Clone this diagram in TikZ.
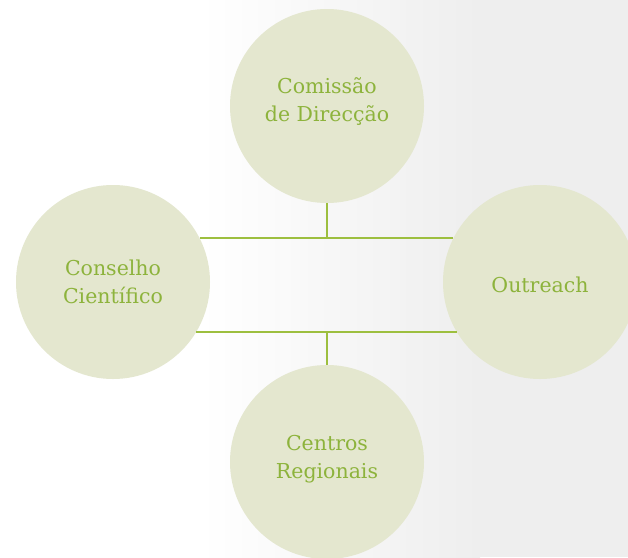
\documentclass[tikz,border=0pt]{standalone}
\usepackage{fontspec}
\setmainfont{DejaVu Serif}
\definecolor{circfill}{HTML}{E4E7CF}
\definecolor{txtgreen}{HTML}{8DB33C}
\definecolor{linegreen}{HTML}{9DBF3F}
\definecolor{bggray}{HTML}{EEEEEE}
\newcommand{\liftby}[2]{\raisebox{#1}[\height][\depth]{#2}}
\begin{document}
\begin{tikzpicture}[x=1pt,y=-1pt,
  bubble/.style={circle,fill=circfill,draw=none,minimum size=194pt,inner sep=0pt,
    text=txtgreen,align=center,font=\fontsize{20.5}{28}\selectfont},
  link/.style={draw=linegreen,line width=1.6pt}]
\useasboundingbox (0,0) rectangle (628,557);
\clip (0,0) rectangle (628,557);
\fill[white] (0,0) rectangle (628,557);
\shade[left color=white,right color=bggray] (200,0) rectangle (480,557);
\fill[bggray] (480,0) rectangle (628,557);
\node[bubble] (T) at (327,106) {\liftby{4pt}{\begin{tabular}{@{}c@{}}Comissão\\de Direcção\end{tabular}}};
\node[bubble] (L) at (113,282) {Conselho\\Científico};
\node[bubble] (R) at (540,282) {\liftby{-3pt}{Outreach}};
\node[bubble] (B) at (327,462) {\liftby{3pt}{\begin{tabular}{@{}c@{}}Centros\\Regionais\end{tabular}}};
\coordinate (J1) at (327,238);
\coordinate (J2) at (327,332);
\draw[link] (L.27) -- (R.153);
\draw[link] (L.-31) -- (R.-149);
\draw[link] (T.south) -- (J1);
\draw[link] (B.north) -- (J2);
\end{tikzpicture}
\end{document}
